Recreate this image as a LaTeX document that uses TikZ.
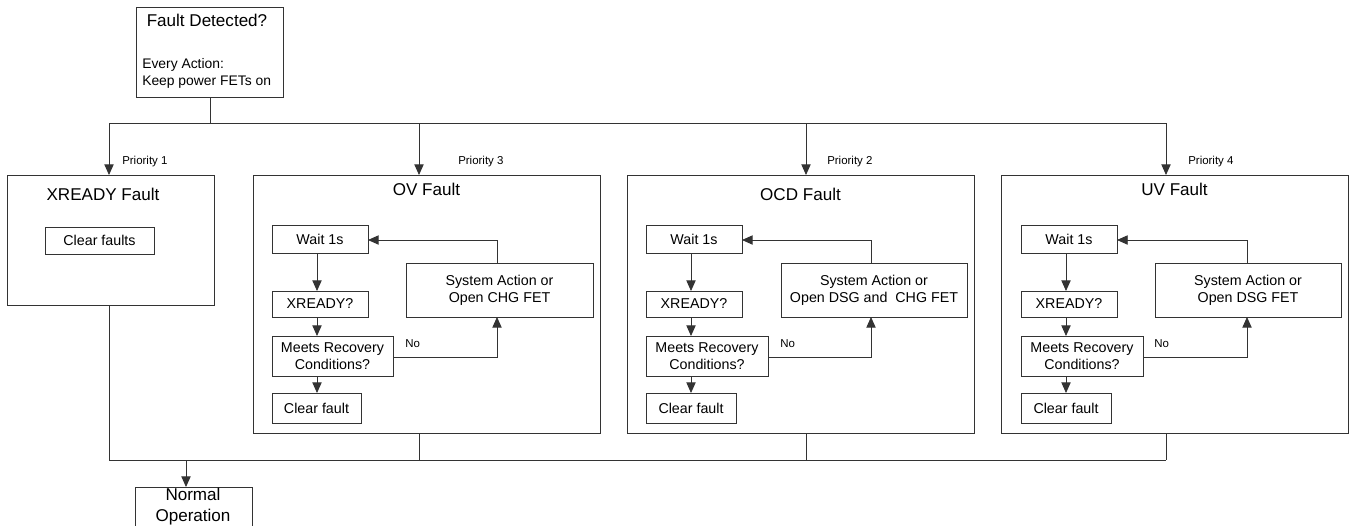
\documentclass[tikz,border=0pt]{standalone}
\usepackage{fontspec}
\setmainfont{Liberation Sans}
\usetikzlibrary{arrows.meta,calc}

\tikzset{
  wire/.style={draw=black!80, line width=0.65pt},
  arr/.style={wire, -{Triangle[length=8pt,width=7pt]}},
  blk/.style={draw=black!80, line width=0.65pt, rectangle, inner sep=0pt,
    outer sep=0pt, align=center, font=\fontsize{10.7}{12.5}\selectfont},
  ttl/.style={anchor=base, font=\fontsize{12.8}{15}\selectfont, inner sep=0pt},
  prio/.style={anchor=base west, font=\fontsize{8.6}{10}\selectfont, inner sep=0pt},
  lbl/.style={anchor=base west, font=\fontsize{8.6}{10}\selectfont, inner sep=0pt},
}

% box given by its corners (x1,y1) and (x2,y2) in pixel units
\newcommand\blk[6]{%
  \node[blk, minimum width={(#4-#2)*0.75pt}, minimum height={(#5-#3)*0.75pt}]
    (#1) at ({(#2+#4)/2},{(#3+#5)/2}) {#6};}

% one recovery loop inside a fault frame
% #1 prefix, #2 frame x1, #3 frame x2, #4 title, #5 title baseline,
% #6 column x1, #7 column x2, #8 meets x2, #9 clear x2
\newcommand\loopframe[9]{%
  \blk{#1f}{#2}{175}{#3}{433}{}
  \node[ttl] (#1t) at ({(#2+#3)/2}, #5) {#4};
  \blk{#1w}{#6}{225}{#7}{253}{Wait 1s}
  \blk{#1x}{#6}{291}{#7}{317}{XREADY?}
  \blk{#1m}{#6}{336}{#8}{376}{Meets Recovery\\Conditions?}
  \blk{#1c}{#6}{393}{#9}{423}{Clear fault}
}

\begin{document}
\begin{tikzpicture}[x=0.75pt, y=-0.75pt]
  \useasboundingbox (0,0) rectangle (1351,525);

  % entry point
  \node[blk, minimum width={147*0.75pt}, minimum height={90*0.75pt}]
    (top) at (209.5,52) {};
  \node[anchor=base, font=\fontsize{12.8}{15}\selectfont, inner sep=0pt]
    (topt) at (207,26) {Fault Detected?};
  \node[anchor=base west, align=left, font=\fontsize{10.4}{12.75}\selectfont,
    inner sep=0pt] (topa) at (142,85) {Every Action:\\Keep power FETs on};

  % XREADY fault
  \blk{xf}{7}{175}{214}{305}{}
  \node[ttl] (xt) at (103,200) {XREADY Fault};
  \blk{xc}{45}{227}{154}{254}{Clear faults}

  % OV fault
  \loopframe{ov}{253}{600}{OV Fault}{195}{272}{368}{393}{361}
  \blk{ovs}{406}{263}{593}{317}{System Action or\\Open CHG FET}

  % OCD fault
  \loopframe{oc}{627}{974}{OCD Fault}{200}{646}{742}{768}{736}
  \blk{ocs}{781}{263}{967}{317}{System Action or\\Open DSG and\ \ CHG FET}

  % UV fault
  \loopframe{uv}{1001}{1348}{UV Fault}{195}{1021}{1117}{1143}{1111}
  \blk{uvs}{1155}{263}{1341}{317}{System Action or\\Open DSG FET}

  % exit
  \node[blk, minimum width={117*0.75pt}, minimum height={40*0.75pt}]
    (norm) at (193.5,507) {};
  \node[anchor=base, font=\fontsize{12.8}{15.75}\selectfont, inner sep=0pt, align=center]
    (normt) at (193,521) {Normal\\Operation};

  % dispatch bus
  \coordinate (bt) at (210,123);
  \draw[wire] (top.south -| bt) -- (bt);
  \draw[wire] (109,123) -- (1166,123);
  \draw[arr] (109,123) -- (109,175);
  \draw[arr] (419,123) -- (419,175);
  \draw[arr] (806,123) -- (806,175);
  \draw[arr] (1166,123) -- (1166,175);
  \node[prio] (p1) at (122,164) {Priority 1};
  \node[prio] (p3) at (458,164) {Priority 3};
  \node[prio] (p2) at (827,164) {Priority 2};
  \node[prio] (p4) at (1188,164) {Priority 4};

  % return bus
  \draw[wire] (109,305) -- (109,460) -- (1166,460);
  \draw[wire] (419,433) -- (419,460);
  \draw[wire] (806,433) -- (806,460);
  \draw[wire] (1166,433) -- (1166,460);
  \draw[arr] (186,460) -- (norm.north -| 186,0);

  % recovery loops
  \foreach \p/\ax/\sx in {ov/317/497, oc/691/871, uv/1066/1247} {
    \draw[arr] (\ax,253) -- (\ax,291);
    \draw[arr] (\ax,317) -- (\ax,336);
    \draw[arr] (\ax,376) -- (\ax,393);
    \draw[arr] (\p m.east |- 0,357) -- (\sx,357) -- (\sx,317);
    \draw[arr] (\sx,263) -- (\sx,240) -- (\p w.east |- 0,240);
  }
  \node[lbl] (no1) at (405,347) {No};
  \node[lbl] (no2) at (780,347) {No};
  \node[lbl] (no3) at (1154,347) {No};
\end{tikzpicture}
\end{document}
